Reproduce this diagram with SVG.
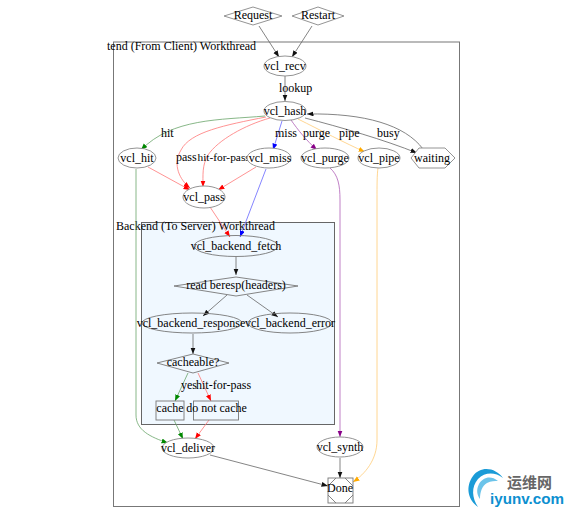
<svg xmlns="http://www.w3.org/2000/svg" width="570" height="515" viewBox="0 0 570 515">
<style>
text{font-family:"Liberation Serif","Times New Roman",serif;font-size:12px;fill:#000}
.m{text-anchor:middle}
.s{fill:#fff;stroke:#888;stroke-width:.9}
.b{fill:#f0f8ff;stroke:#666;stroke-width:1}
.c{fill:none;stroke:#777;stroke-width:.9}
#edges path{fill:none;stroke-width:.8}
.k{stroke:#666;marker-end:url(#ak)}
.r{stroke:#f77;marker-end:url(#ar)}
.g{stroke:#6aa56a;marker-end:url(#ag)}
.u{stroke:#66f;marker-end:url(#au)}
.p{stroke:#b060b8;marker-end:url(#ap)}
.o{stroke:#fc7;marker-end:url(#ao)}
</style>
<defs>
<marker id="ak" markerUnits="userSpaceOnUse" markerWidth="7" markerHeight="6" refX="6.500" refY="2.500" orient="auto"><path d="M0,0L6.500,2.500L0,5z" fill="#111"/></marker>
<marker id="ar" markerUnits="userSpaceOnUse" markerWidth="7" markerHeight="6" refX="6.500" refY="2.500" orient="auto"><path d="M0,0L6.500,2.500L0,5z" fill="#f00"/></marker>
<marker id="ag" markerUnits="userSpaceOnUse" markerWidth="7" markerHeight="6" refX="6.500" refY="2.500" orient="auto"><path d="M0,0L6.500,2.500L0,5z" fill="#080"/></marker>
<marker id="au" markerUnits="userSpaceOnUse" markerWidth="7" markerHeight="6" refX="6.500" refY="2.500" orient="auto"><path d="M0,0L6.500,2.500L0,5z" fill="#00f"/></marker>
<marker id="ap" markerUnits="userSpaceOnUse" markerWidth="7" markerHeight="6" refX="6.500" refY="2.500" orient="auto"><path d="M0,0L6.500,2.500L0,5z" fill="#808"/></marker>
<marker id="ao" markerUnits="userSpaceOnUse" markerWidth="7" markerHeight="6" refX="6.500" refY="2.500" orient="auto"><path d="M0,0L6.500,2.500L0,5z" fill="#fa0"/></marker>
</defs>
<g id="cluster-frontend"><rect x="113.500" y="42" width="346" height="464.500" fill="#fff" stroke="#777"/><text x="107" y="50">tend (From Client) Workthread</text></g>
<g id="cluster-backend"><rect class="b" x="141.500" y="222.500" width="193" height="202"/><text x="116" y="230">Backend (To Server) Workthread</text></g>
<g id="edges">
<path class="k" d="M259,26L279,57"/>
<path class="k" d="M312,26L292,57"/>
<path class="k" d="M285,76V101"/>
<path class="g" d="M265,116C220,120 172,118 141,150"/>
<path class="r" d="M266,117C225,125 190,132 181,150C172,165 180,180 190,188"/>
<path class="r" d="M270,118C245,125 218,140 208,155C202,165 203,175 203,187"/>
<path class="u" d="M282,121L273,150"/>
<path class="p" d="M291,120C298,130 306,140 317,150"/>
<path class="o" d="M298,119C320,130 345,143 365,152"/>
<path class="k" d="M305,118C340,127 385,140 417,153"/>
<path class="k" d="M423,149C405,125 365,113 307,114"/>
<path class="r" d="M148,167L190,190"/>
<path class="r" d="M256,167L218,190"/>
<path class="u" d="M266,169L240,237"/>
<path class="r" d="M210,207L230,237"/>
<path class="g" d="M136,169V415C136,430 150,437 168,443"/>
<path class="p" d="M330,168C338,175 340,185 340,200V437"/>
<path class="o" d="M378,168C377,175 377,185 377,200V440C377,460 365,474 353,482"/>
<path class="k" d="M236,257V275"/>
<path class="k" d="M227,295L203,316"/>
<path class="k" d="M247,295L278,317"/>
<path class="k" d="M193,334V354"/>
<path class="g" d="M188,373L175,401"/>
<path class="r" d="M198,373L211,401"/>
<path class="g" d="M174,420L183,439"/>
<path class="r" d="M209,420L195,439"/>
<path class="k" d="M210,455L328,486"/>
<path class="k" d="M340,458V478"/>
</g>
<g id="edge-labels">
<text x="279" y="92">lookup</text>
<text x="161" y="137">hit</text>
<text x="275" y="137">miss</text>
<text x="303" y="137">purge</text>
<text x="339" y="137">pipe</text>
<text x="377" y="137">busy</text>
<text x="176" y="161">pass</text>
<text x="197.500" y="161" style="font-size:11.400px">hit-for-pass</text>
<text x="181" y="389">yes</text>
<text x="196" y="389">hit-for-pass</text>
</g>
<g id="n-request"><path class="s" d="M224,16L253,7L282,16L253,25z"/><text class="m" x="253" y="19">Request</text></g>
<g id="n-restart"><path class="s" d="M292,16L318,7L344,16L318,25z"/><text class="m" x="318" y="19">Restart</text></g>
<g id="n-recv"><ellipse class="s" cx="285" cy="66" rx="21" ry="10"/><text class="m" x="285" y="70">vcl_recv</text></g>
<g id="n-hash"><ellipse class="s" cx="285" cy="111" rx="21" ry="9.500"/><text class="m" x="285" y="115">vcl_hash</text></g>
<g id="n-hit"><ellipse class="s" cx="137" cy="158" rx="19" ry="10"/><text class="m" x="137" y="162">vcl_hit</text></g>
<g id="n-miss"><ellipse class="s" cx="269" cy="158" rx="22" ry="10"/><text class="m" x="270" y="162">vcl_miss</text></g>
<g id="n-purge"><ellipse class="s" cx="325" cy="158" rx="24" ry="10"/><text class="m" x="325" y="162">vcl_purge</text></g>
<g id="n-pipe"><ellipse class="s" cx="379" cy="158" rx="21" ry="10"/><text class="m" x="379" y="162">vcl_pipe</text></g>
<g id="n-waiting"><path class="s" d="M411,158L419,148H445L455,158L445,168H419z"/><text class="m" x="432" y="162">waiting</text></g>
<g id="n-pass"><ellipse class="s" cx="204" cy="197" rx="21" ry="11"/><text class="m" x="204" y="201">vcl_pass</text></g>
<g id="n-fetch"><ellipse class="c" cx="236" cy="246" rx="42" ry="10.500"/><text class="m" x="236" y="250">vcl_backend_fetch</text></g>
<g id="n-read"><path class="c" d="M174,286L236,277L298,286L236,296z"/><text class="m" x="236" y="289">read beresp(headers)</text></g>
<g id="n-response"><ellipse class="c" cx="192" cy="323" rx="50" ry="10"/><text class="m" x="191" y="327">vcl_backend_response</text></g>
<g id="n-error"><ellipse class="c" cx="290" cy="323" rx="42" ry="10"/><text class="m" x="290" y="327">vcl_backend_error</text></g>
<g id="n-cacheable"><path class="c" d="M157,363L193,354L229,363L193,373z"/><text class="m" x="193" y="366">cacheable?</text></g>
<g id="n-cache"><rect class="c" x="156" y="401" width="28" height="19"/><text class="m" x="170" y="412">cache</text></g>
<g id="n-nocache"><rect class="c" x="193.500" y="401" width="45" height="19"/><text class="m" x="216.500" y="412">do not cache</text></g>
<g id="n-deliver"><ellipse class="s" cx="188" cy="448" rx="26" ry="10"/><text class="m" x="188" y="452">vcl_deliver</text></g>
<g id="n-synth"><ellipse class="s" cx="340" cy="447" rx="23" ry="10"/><text class="m" x="340" y="451">vcl_synth</text></g>
<g id="n-done"><rect class="c" x="328" y="478" width="25" height="25"/><path class="c" d="M328,486L336,478M345,478L353,486M353,495L345,503M336,503L328,495"/><text class="m" x="340" y="492">Done</text></g>
<g id="watermark">
<path d="M503,478C496,468 481,465 473,476C465,487 468,500 478,507C472,498 471,487 478,479C485,472 495,472 503,478z" fill="#1a9bd7"/>
<path d="M498,481C491,475 483,477 479,484C476,490 477,495 480,499C480,492 482,486 487,483C491,481 495,481 498,481z" fill="#6cc4ea"/>
<text x="507" y="488" style="font-family:'Noto Sans CJK SC',sans-serif;font-size:15px;font-weight:700;fill:#666">运维网</text>
<text x="490" y="504" style="font-family:'Liberation Sans',Arial,sans-serif;font-size:15.200px;font-weight:700;fill:#0d8fd0">iyunv.com</text>
</g>
</svg>
